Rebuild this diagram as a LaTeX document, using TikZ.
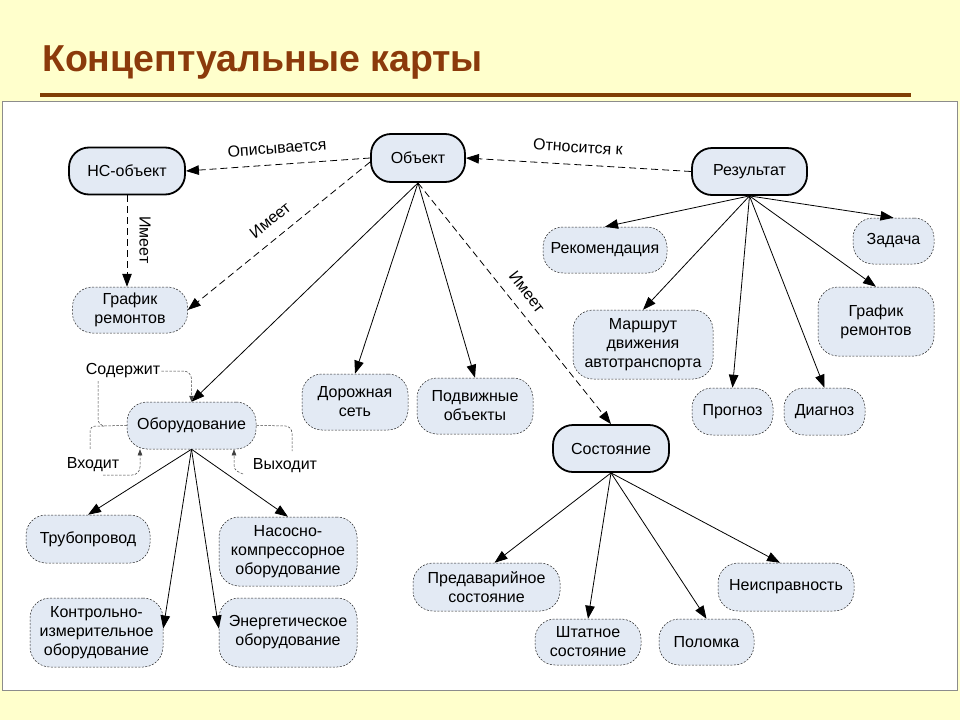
\documentclass[tikz,border=0pt]{standalone}
\usepackage{fontspec}
\setmainfont{Liberation Sans}
\usetikzlibrary{arrows.meta}
\definecolor{bgy}{RGB}{255,255,204}
\definecolor{titlebrown}{RGB}{139,58,11}
\definecolor{linebrown}{RGB}{128,62,4}
\definecolor{nodefill}{RGB}{227,234,244}
\begin{document}
\begin{tikzpicture}[x=1pt,y=-1pt,
  txt/.style={font=\fontsize{16}{19}\selectfont},
  cbox/.style={txt, draw=black!85, dash pattern=on 2pt off 1.5pt, line width=0.5pt, fill=nodefill, rounded corners=20pt, inner sep=0pt, align=center},
  mainbox/.style={cbox, solid, line width=1.8pt, draw=black},
  sz/.style 2 args={minimum width=#1pt, minimum height=#2pt},
  arr/.style={-{Triangle[length=13pt,width=9.5pt]}, line width=0.8pt},
  darr/.style={arr, dash pattern=on 7pt off 4pt},
  loopl/.style={draw=black!75, line width=0.5pt, dash pattern=on 2.5pt off 1.5pt},
  larr/.style={loopl, -{Triangle[length=6pt,width=4.5pt]}},
  lbl/.style={txt, inner sep=1pt}
]
\useasboundingbox (0,0) rectangle (960,720);
\fill[bgy] (0,0) rectangle (960,720);
\node[anchor=base west, font=\fontsize{37.5}{37.5}\selectfont\bfseries, text=titlebrown, inner sep=0pt] (title) at (42,71) {Концептуальные карты};
\draw[line width=4pt, draw=linebrown] (40,95) -- (911,95);
\draw[fill=white, draw=black!45, line width=1pt] (2,101) rectangle (957,690);

% nodes
\node[mainbox, sz={116}{47}] (nc) at (127,171) {НС-объект};
\node[mainbox, sz={94}{48}] (obj) at (418,158) {Объект};
\node[mainbox, sz={115}{47}] (res) at (749.5,171.5) {Результат};
\node[cbox, sz={115}{46}] (gr1) at (130,310) {График\\ремонтов};
\node[cbox, sz={124}{46}] (rek) at (605,250) {Рекомендация};
\node[cbox, sz={81}{46}] (zad) at (893.5,241) {Задача};
\node[cbox, sz={140}{69}] (mar) at (643,344.5) {Маршрут\\движения\\автотранспорта};
\node[cbox, sz={116}{69}] (gr2) at (876,321.5) {График\\ремонтов};
\node[cbox, sz={81}{47}] (prog) at (732.5,411.5) {Прогноз};
\node[cbox, sz={81}{47}] (diag) at (824.5,411.5) {Диагноз};
\node[cbox, sz={106}{56}] (dor) at (355,402) {Дорожная\\сеть};
\node[cbox, sz={116}{56}] (podv) at (475,406) {Подвижные\\объекты};
\node[mainbox, sz={116}{47}] (sost) at (611,448.5) {Состояние};
\node[cbox, sz={129}{47}] (obor) at (191.5,425.5) {Оборудование};
\node[cbox, sz={124}{48}] (trub) at (88,539) {Трубопровод};
\node[cbox, sz={138}{69}] (nas) at (288,551.5) {Насосно-\\компрессорное\\оборудование};
\node[cbox, sz={133}{69}] (kip) at (96.5,632.5) {Контрольно-\\измерительное\\оборудование};
\node[cbox, sz={138}{69}] (en) at (288,632.5) {Энергетическое\\оборудование};
\node[cbox, sz={147}{48}] (pred) at (486.5,587) {Предаварийное\\состояние};
\node[cbox, sz={106}{46}] (sht) at (588,642) {Штатное\\состояние};
\node[cbox, sz={95}{46}] (pol) at (706.5,642) {Поломка};
\node[cbox, sz={136}{48}] (neis) at (786,587) {Неисправность};

% labels
\node[lbl, rotate=4.3] (l1) at (277,148) {Описывается};
\node[lbl, rotate=-3.5] (l2) at (578,147) {Относится к};
\node[lbl, rotate=-90] (l3) at (145,240) {Имеет};
\node[lbl, rotate=39] (l4) at (270,220) {Имеет};
\node[lbl, rotate=-52] (l5) at (527,292) {Имеет};

% dashed connectors
\draw[darr] (obj.west) -- (nc.east);
\draw[darr] (res.west) -- (obj.east);
\draw[darr] (nc.south) -- (nc.south |- gr1.north);
\draw[darr] ([yshift=-4pt]obj.west) -- (gr1.east);
\draw[darr] (obj.south) -- (sost.north);

% solid connectors
\foreach \t in {obor,dor,podv} \draw[arr] (obj.south) -- (\t.north);
\foreach \t in {rek,zad,mar,prog,diag,gr2} \draw[arr] (res.south) -- (\t.north);
\draw[arr] (obor.south) -- (trub.north);
\draw[arr] (obor.south) -- (nas.north);
\draw[arr] (obor.south) -- ([yshift=4pt]kip.east);
\draw[arr] (obor.south) -- ([yshift=4pt]en.west);
\draw[arr] (sost.south) -- ([xshift=8pt]pred.north);
\draw[arr] (sost.south) -- (sht.north);
\draw[arr] (sost.south) -- (pol.north);
\draw[arr] (sost.south) -- ([xshift=-6pt]neis.north);

% loops around Оборудование
\node[lbl] (sod) at (123,371) {Содержит};
\node[lbl] (vh) at (93,465) {Входит};
\node[lbl] (vyh) at (285,466) {Выходит};
\draw[larr, rounded corners=8pt] (sod.east) -- (191.5,371) -- (obor.north);
\draw[loopl, rounded corners=7pt] (obor.west) -- (98,426) -- (98,381);
\draw[loopl, rounded corners=5pt] (104,426) -- (90,426) -- (90,450);
\draw[larr, rounded corners=8pt] (103,475) -- (140,475) -- ([xshift=-51.5pt]obor.south);
\draw[loopl, rounded corners=7pt] (obor.east) -- (292,426) -- (292,451);
\draw[larr] (243,474) .. controls (234,470) .. (234,460) -- ([xshift=42.5pt]obor.south);
\end{tikzpicture}
\end{document}
